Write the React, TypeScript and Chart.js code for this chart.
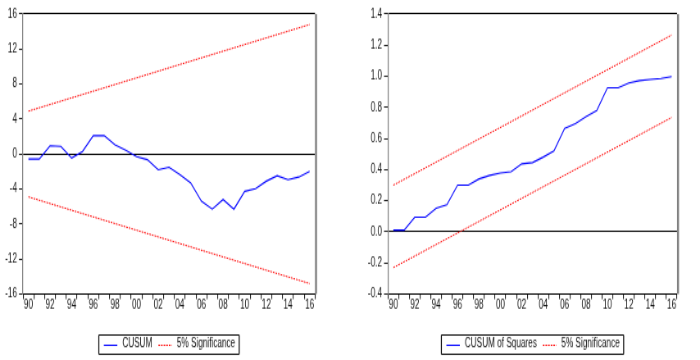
import React, { useEffect, useRef } from 'react';
import { Chart, registerables } from 'chart.js';

Chart.register(...registerables);

// ---------- data ----------
const years = ['90', '91', '92', '93', '94', '95', '96', '97', '98', '99', '00', '01', '02', '03', '04', '05', '06', '07', '08', '09', '10', '11', '12', '13', '14', '15', '16'];

const cusum = [-0.57, -0.57, 0.95, 0.88, -0.46, 0.3, 2.1, 2.1, 1.07, 0.42, -0.3, -0.65, -1.8, -1.5, -2.36, -3.3, -5.4, -6.3, -5.2, -6.3, -4.27, -3.96, -3.1, -2.48, -2.93, -2.63, -1.98];
const cusumUpperEnds = [4.9, 14.8];
const cusumLowerEnds = [-4.9, -14.8];

const cusumSq = [0.011, 0.011, 0.094, 0.094, 0.152, 0.174, 0.3, 0.3, 0.34, 0.363, 0.378, 0.387, 0.437, 0.445, 0.48, 0.52, 0.664, 0.696, 0.74, 0.78, 0.926, 0.926, 0.957, 0.972, 0.979, 0.985, 0.998];
const sqUpperEnds = [0.3, 1.265];
const sqLowerEnds = [-0.23, 0.735];

const cusumAxis = [-16, 16, 4];
const sqAxis = [-0.4, 1.4, 0.2];

const labelsLeft = ['CUSUM', '5% Significance'];
const labelsRight = ['CUSUM of Squares', '5% Significance'];

// ---------- layout (canvas is drawn condensed/stretched like the original picture) ----------
const W = 350; // displayed width of one panel
const H = 360; // displayed height
const IW = 427; // internal canvas width
const IH = 281; // internal canvas height
const sx = IW / W;
const sy = IH / H;
const FONT = '"Liberation Sans", Arial, sans-serif';
const FSIZE = 10;

function endsToSeries(ends: number[]): (number | null)[] {
  return years.map((_, i) => (i === 0 ? ends[0] : i === years.length - 1 ? ends[1] : null));
}

const framePlugin = {
  id: 'frameLegend',
  afterDraw(chart: any, _args: any, opts: any) {
    const ctx = chart.ctx;
    const ca = chart.chartArea;
    ctx.save();
    // right border
    ctx.strokeStyle = '#808080';
    ctx.lineWidth = 2 * sx;
    ctx.setLineDash([]);
    ctx.beginPath();
    ctx.moveTo(ca.right + sx, ca.top);
    ctx.lineTo(ca.right + sx, ca.bottom);
    ctx.stroke();

    // legend
    const items = opts.items as { label: string; color: string; dash: number[] }[];
    ctx.font = `${FSIZE}px ${FONT}`;
    const padL = 5 * sx, sample = 13.5 * sx, gap = 5 * sx, itemGap = 6 * sx, padR = 4 * sx;
    const widths = items.map((it) => ctx.measureText(it.label).width);
    let total = padL + padR;
    widths.forEach((w, i) => { total += sample + gap + w + (i > 0 ? itemGap : 0); });
    const cx = (ca.left + ca.right) / 2;
    const bx = cx - total / 2;
    const by = 334 * sy;
    const bh = 20 * sy;
    ctx.strokeStyle = '#000';
    ctx.lineWidth = 1;
    ctx.beginPath();
    ctx.moveTo(bx, Math.round(by) + 0.5);
    ctx.lineTo(bx + total, Math.round(by) + 0.5);
    ctx.moveTo(bx, Math.round(by + bh) + 0.5);
    ctx.lineTo(bx + total, Math.round(by + bh) + 0.5);
    ctx.stroke();
    ctx.lineWidth = sx;
    ctx.beginPath();
    ctx.moveTo(bx, Math.round(by) + 0.5);
    ctx.lineTo(bx, Math.round(by + bh) + 0.5);
    ctx.moveTo(bx + total, Math.round(by) + 0.5);
    ctx.lineTo(bx + total, Math.round(by + bh) + 0.5);
    ctx.stroke();
    const my = by + bh / 2;
    let x = bx + padL;
    items.forEach((it, i) => {
      if (i > 0) x += itemGap;
      ctx.strokeStyle = it.color;
      ctx.lineWidth = 1;
      ctx.setLineDash(it.dash);
      ctx.beginPath();
      ctx.moveTo(x, Math.round(my) + 0.5);
      ctx.lineTo(x + sample, Math.round(my) + 0.5);
      ctx.stroke();
      ctx.setLineDash([]);
      x += sample + gap;
      ctx.fillStyle = '#111';
      ctx.textBaseline = 'middle';
      ctx.textAlign = 'left';
      ctx.fillText(it.label, x, my);
      x += widths[i];
    });
    ctx.restore();
  },
};

function makeConfig(p: any): any {
  const [ymin, ymax, ystep] = p.axis;
  return {
    type: 'line',
    data: {
      labels: years,
      datasets: [
        { label: p.labels[0], data: p.main, borderColor: '#0000ff', borderWidth: 1.1, pointRadius: 0, tension: 0, fill: false },
        { label: p.labels[1], data: endsToSeries(p.upper), borderColor: '#ff0000', borderWidth: 1, borderDash: [2, 1.2], pointRadius: 0, spanGaps: true, fill: false },
        { label: p.labels[1], data: endsToSeries(p.lower), borderColor: '#ff0000', borderWidth: 1, borderDash: [2, 1.2], pointRadius: 0, spanGaps: true, fill: false },
      ],
    },
    options: {
      animation: false,
      responsive: false,
      devicePixelRatio: 1,
      events: [],
      layout: { padding: { left: 0, right: p.padRight * sx, top: 14 * sy, bottom: (H - 294) * sy - 20 * sy } },
      plugins: {
        legend: { display: false },
        tooltip: { enabled: false },
        frameLegend: {
          items: [
            { label: p.labels[0], color: '#0000ff', dash: [] },
            { label: p.labels[1], color: '#ff0000', dash: [2, 1.2] },
          ],
        },
      },
      scales: {
        x: {
          type: 'category',
          offset: true,
          grid: { offset: true, drawOnChartArea: false, tickLength: 5 * sy, lineWidth: 0.9 * sx, color: '#000', tickColor: '#222' },
          border: { color: '#000', width: 1 },
          ticks: {
            autoSkip: false,
            maxRotation: 0,
            minRotation: 0,
            padding: 0.3,
            color: '#111',
            font: { family: FONT, size: FSIZE, lineHeight: 1 },
            callback: function (this: any, v: any, i: number) {
              return i % 2 === 0 ? this.getLabelForValue(v) : '';
            },
          },
          afterFit: (s: any) => { s.height = 20 * sy; },
        },
        y: {
          min: ymin,
          max: ymax,
          ticks: {
            stepSize: ystep,
            padding: 2 * sx,
            color: '#111',
            font: { family: FONT, size: FSIZE, lineHeight: 1 },
            callback: (v: number) => p.fmt(v),
          },
          grid: {
            drawOnChartArea: true,
            tickLength: 4 * sx,
            tickColor: '#222',
            color: (c: any) => {
              const v = c.tick ? c.tick.value : NaN;
              if (Math.abs(v) < 1e-9 || Math.abs(v - ymax) < 1e-9 || Math.abs(v - ymin) < 1e-9) return '#000';
              return 'rgba(0,0,0,0)';
            },
          },
          border: { color: '#808080', width: sx },
          afterFit: (s: any) => { s.width = p.yWidth * sx; },
        },
      },
    },
    plugins: [framePlugin],
  };
}

function Panel(props: { cfg: any; left: number }) {
  const ref = useRef<HTMLCanvasElement | null>(null);
  useEffect(() => {
    if (!ref.current) return;
    const chart = new Chart(ref.current, props.cfg);
    return () => chart.destroy();
  }, []);
  return (
    <canvas
      ref={ref}
      width={IW}
      height={IH}
      style={{ position: 'absolute', left: props.left, top: 0, width: W + 'px', height: H + 'px' }}
    />
  );
}

const leftCfg = makeConfig({
  main: cusum,
  upper: cusumUpperEnds,
  lower: cusumLowerEnds,
  axis: cusumAxis,
  labels: labelsLeft,
  yWidth: 23,
  padRight: 35,
  fmt: (v: number) => String(Math.round(v)),
});

const rightCfg = makeConfig({
  main: cusumSq,
  upper: sqUpperEnds,
  lower: sqLowerEnds,
  axis: sqAxis,
  labels: labelsRight,
  yWidth: 38,
  padRight: 23,
  fmt: (v: number) => (Math.abs(v) < 1e-9 ? 0 : v).toFixed(1),
});

export default function App() {
  return (
    <div style={{ position: 'absolute', left: 0, top: 0, width: 700, height: 360, background: '#fff', overflow: 'hidden' }}>
      <Panel cfg={leftCfg} left={0} />
      <Panel cfg={rightCfg} left={350} />
    </div>
  );
}
